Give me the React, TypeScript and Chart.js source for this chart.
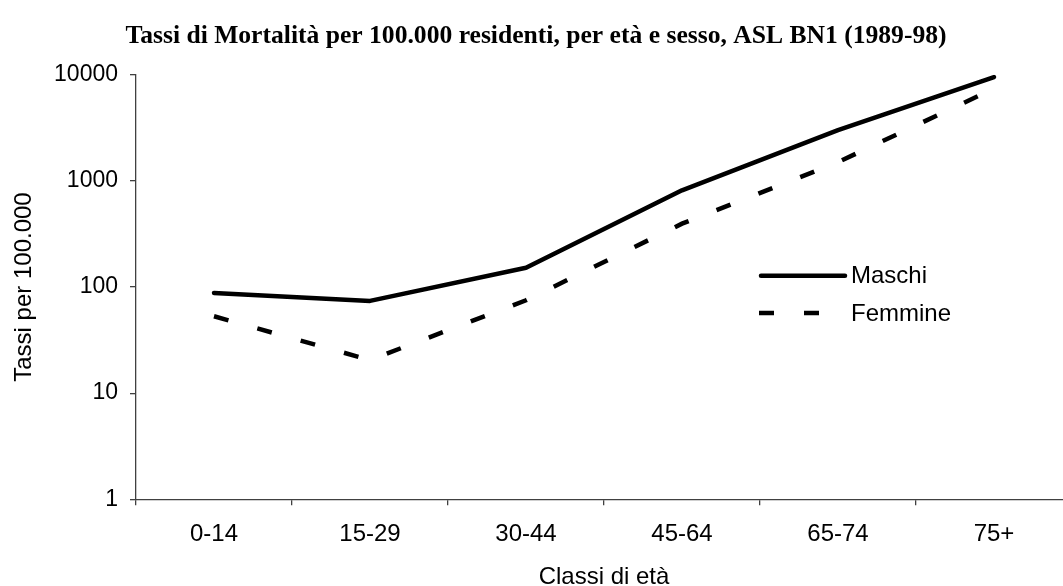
import React, { useEffect, useRef } from "react";
import { Chart, registerables } from "chart.js";

Chart.register(...registerables);

const categories = ["0-14", "15-29", "30-44", "45-64", "65-74", "75+"];
const maschi = [88, 74, 152, 815, 3000, 9500];
const femmine = [53, 20.5, 75, 395, 1500, 7400];
const yTicks = [1, 10, 100, 1000, 10000];
const seriesNames = ["Maschi", "Femmine"];

const SANS = "'Liberation Sans', Arial, sans-serif";

const legendPlugin = {
  id: "insideLegend",
  afterDatasetsDraw(chart: any) {
    const ctx = chart.ctx;
    const ds = chart.data.datasets;
    const x0 = 759;
    const x1 = 847;
    const rows = [275.7, 313];
    ctx.save();
    ds.forEach((d: any, i: number) => {
      const y = rows[i];
      ctx.beginPath();
      ctx.strokeStyle = d.borderColor;
      ctx.lineWidth = d.borderWidth;
      ctx.lineCap = d.borderCapStyle || "butt";
      ctx.setLineDash(d.borderDash || []);
      ctx.moveTo(x0 + (d.borderCapStyle === "round" ? 2 : 0), y);
      ctx.lineTo(x1 - (d.borderCapStyle === "round" ? 2 : 0), y);
      ctx.stroke();
      ctx.setLineDash([]);
      ctx.fillStyle = "#000";
      ctx.font = "24px " + SANS;
      ctx.textAlign = "left";
      ctx.textBaseline = "middle";
      ctx.fillText(d.label, 851, y + 1);
    });
    ctx.restore();
  },
};

export default function App() {
  const ref = useRef<HTMLCanvasElement | null>(null);
  useEffect(() => {
    if (!ref.current) return;
    const chart = new Chart(ref.current, {
      type: "line",
      data: {
        labels: categories,
        datasets: [
          {
            label: seriesNames[0],
            data: maschi,
            borderColor: "#000",
            backgroundColor: "#000",
            borderWidth: 4.5,
            borderCapStyle: "round",
            borderJoinStyle: "round",
            pointRadius: 0,
            tension: 0,
          },
          {
            label: seriesNames[1],
            data: femmine,
            borderColor: "#000",
            backgroundColor: "#000",
            borderWidth: 4.5,
            borderDash: [15, 30],
            borderCapStyle: "butt",
            pointRadius: 0,
            tension: 0,
          },
        ],
      },
      options: {
        responsive: false,
        animation: false,
        devicePixelRatio: 1,
        layout: { padding: { left: 0, right: 8, top: 0, bottom: 0 } },
        plugins: {
          legend: { display: false },
          tooltip: { enabled: false },
          title: {
            display: true,
            text: "Tassi di Mortalità per 100.000 residenti, per età e sesso, ASL BN1 (1989-98)",
            color: "#000",
            font: { family: "'Liberation Serif', 'Times New Roman', serif", size: 25.6, weight: "bold", lineHeight: 1.2 },
            padding: { top: 20.6, bottom: 23.4 },
          },
        },
        scales: {
          x: {
            type: "category",
            offset: true,
            border: { display: true, color: "#404040", width: 1.3 },
            grid: { offset: true, drawOnChartArea: false, drawTicks: true, tickLength: 6, color: "#404040", lineWidth: 1.3 },
            ticks: { color: "#000", padding: 15, font: { family: SANS, size: 24 }, maxRotation: 0 },
            title: {
              display: true,
              text: "Classi di età",
              color: "#000",
              font: { family: SANS, size: 24, lineHeight: 1 },
              padding: { top: 0, bottom: -3 },
            },
            afterFit: (s: any) => {
              s.height = 86.7;
            },
          },
          y: {
            type: "logarithmic",
            min: 1,
            max: 10000,
            border: { display: true, color: "#404040", width: 1.3 },
            grid: { drawOnChartArea: false, drawTicks: true, tickLength: 6, color: "#404040", lineWidth: 1.3 },
            afterBuildTicks: (s: any) => {
              s.ticks = yTicks.map((v) => ({ value: v }));
            },
            ticks: {
              color: "#000",
              padding: 12,
              font: { family: SANS, size: 23 },
              callback: (v: any) => String(v),
            },
            title: {
              display: true,
              text: "Tassi per 100.000",
              color: "#000",
              font: { family: SANS, size: 24, lineHeight: 1 },
              padding: { top: 12, bottom: 0 },
            },
            afterFit: (s: any) => {
              s.width = 136;
            },
          },
        },
      } as any,
      plugins: [legendPlugin],
    });
    return () => chart.destroy();
  }, []);
  return (
    <div style={{ position: "fixed", left: 0, top: 0, width: 1063, height: 586, overflow: "hidden", background: "#fff" }}>
      <canvas ref={ref} width={1080} height={586} style={{ width: 1080, height: 586, display: "block" }} />
    </div>
  );
}
